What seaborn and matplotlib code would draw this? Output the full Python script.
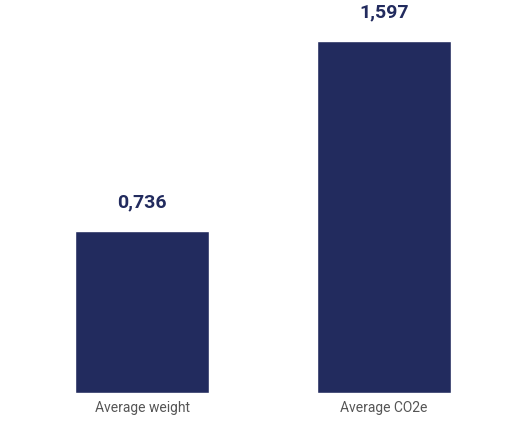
import matplotlib
matplotlib.use('Agg')
import matplotlib.pyplot as plt
import seaborn as sns
import pandas as pd

categories = ['Average weight', 'Average CO2e']
values = [0.736, 1.597]
value_labels = ['0,736', '1,597']

df = pd.DataFrame({'category': categories, 'value': values})

sns.set_style('white')
plt.rcParams['font.family'] = ['Roboto', 'DejaVu Sans']

fig = plt.figure(figsize=(5.3, 4.24), dpi=100)
ax = fig.add_axes([0, 31 / 424, 1, 393 / 424])
sns.barplot(data=df, x='category', y='value', color='#222b5e', saturation=1, width=0.554, ax=ax)

ax.set_xlim(-142 / 242, 388 / 242)
ax.set_ylim(0, 393 / 220.4)

for i, (v, lab) in enumerate(zip(values, value_labels)):
    ax.text(i, v + 0.09, lab, ha='center', va='bottom', fontsize=14,
            fontweight='bold', color='#222b5e')

ax.set_xlabel('')
ax.set_ylabel('')
ax.set_yticks([])
ax.tick_params(axis='x', length=0, labelsize=10, labelcolor='#555555', pad=6)
sns.despine(ax=ax, left=True, bottom=True)

fig.savefig('out.png', dpi=100)
